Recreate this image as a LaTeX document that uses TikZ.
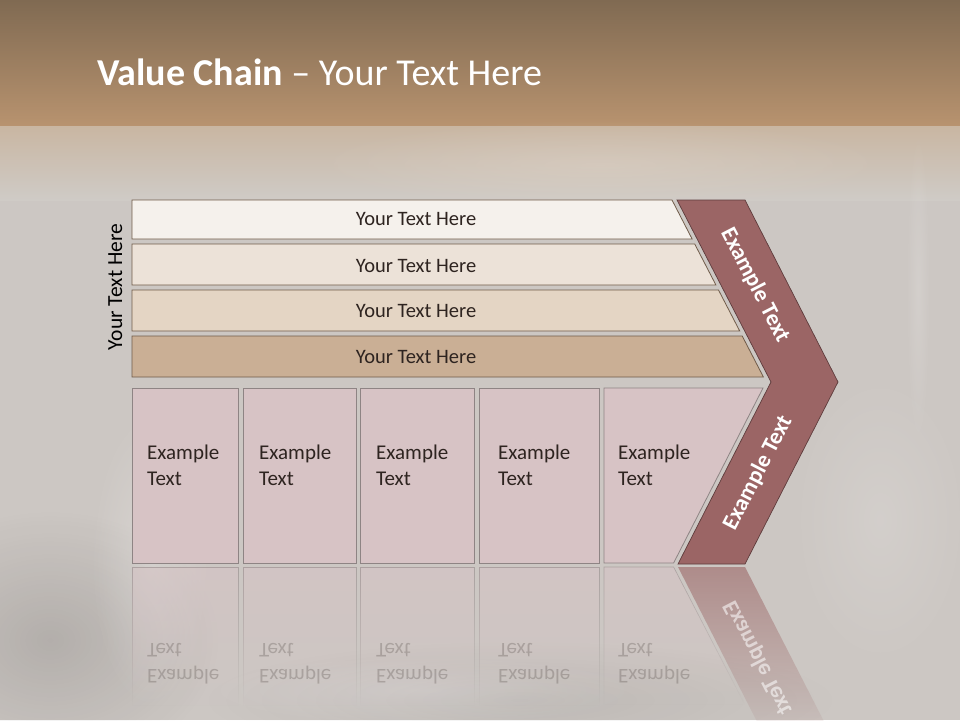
\documentclass[tikz,border=0pt]{standalone}
\usepackage{fontspec}
\setmainfont{Carlito}
\usepackage{graphicx}
\usetikzlibrary{fadings}
\definecolor{bgA}{HTML}{806A52}
\definecolor{bgB}{HTML}{B8936F}
\definecolor{bgC}{HTML}{C9B6A2}
\definecolor{bgD}{HTML}{CFCBC6}
\definecolor{bgE}{HTML}{CCC7C3}
\definecolor{barA}{HTML}{F5F1EC}
\definecolor{barB}{HTML}{ECE2D8}
\definecolor{barC}{HTML}{E4D5C4}
\definecolor{barD}{HTML}{CAAF95}
\definecolor{barline}{HTML}{705C4A}
\definecolor{boxfill}{HTML}{D7C3C5}
\definecolor{boxline}{HTML}{8E8484}
\definecolor{chevfill}{HTML}{9B6565}
\definecolor{chevline}{HTML}{5E3C3C}
\definecolor{txtdark}{HTML}{2E2420}
\tikzfading[name=reflfade, top color=transparent!45, bottom color=transparent!100]
\tikzfading[name=reflfadeC, top color=transparent!40, middle color=transparent!80, bottom color=transparent!100]
\tikzfading[name=softblob, inner color=transparent!0, outer color=transparent!100]
\newcommand\exlines{\begin{tabular}[t]{@{}l@{}}Example\\Text\end{tabular}}
\newcommand\exlinesflip{\scalebox{1}[-1]{\begin{tabular}[b]{@{}l@{}}Example\\Text\end{tabular}}}
\begin{document}
\begin{tikzpicture}[x=1pt,y=-1pt,
  bar/.style={draw=barline, line width=0.8pt},
  cbox/.style={draw=boxline, fill=boxfill, line width=0.8pt},
  chev/.style={draw=chevline, fill=chevfill, line width=0.7pt},
  bartext/.style={font=\fontsize{20.5}{24}\selectfont, text=txtdark, anchor=base, inner sep=0pt},
  boxtext/.style={font=\fontsize{21}{26}\selectfont, text=txtdark, anchor=base west, inner sep=0pt},
  reftext/.style={font=\fontsize{21}{26}\selectfont, text=txtdark, text opacity=0.22, anchor=base west, inner sep=0pt},
  chevtext/.style={font=\bfseries\fontsize{23}{27}\selectfont, text=white, inner sep=0pt},
  refl/.style={fill=boxfill, draw=boxline, line width=0.6pt, path fading=reflfade},
  blob/.style={path fading=softblob},
]
\useasboundingbox (0,0) rectangle (960,720);
% ---------- background ----------
\fill[bgE] (0,0) rectangle (960,720);
\shade[top color=bgA, bottom color=bgB] (0,0) rectangle (960,126);
\shade[top color=bgC, bottom color=bgD] (0,126) rectangle (960,200);
\fill[bgC!60!white, opacity=0.45, blob] (600,165) ellipse (300 and 45);
\fill[white, opacity=0.15, blob] (918,290) ellipse (12 and 160);
\fill[black, opacity=0.12, blob] (50,640) ellipse (170 and 130);
\fill[black, opacity=0.07, blob] (520,700) ellipse (320 and 60);
\fill[white, opacity=0.22, blob] (150,560) ellipse (60 and 150);
\fill[white, opacity=0.18, blob] (420,690) ellipse (220 and 35);
\fill[white, opacity=0.14, blob] (880,520) ellipse (90 and 150);
% ---------- title ----------
\node[anchor=base west, inner sep=0pt, text=white, font=\fontsize{38}{45}\selectfont] (title) at (97,85)
  {\textbf{Value Chain} – Your Text Here};
% ---------- side label ----------
\node[rotate=90, anchor=base, inner sep=0pt, text=black, font=\fontsize{21.5}{25}\selectfont] (side) at (122,287) {Your Text Here};
% ---------- bars ----------
\path[bar, fill=barA] (132,200) -- (672,200) -- (692.1,239) -- (132,239) -- cycle;
\path[bar, fill=barB] (132,244) -- (694.7,244) -- (715.9,285) -- (132,285) -- cycle;
\path[bar, fill=barC] (132,290) -- (718.5,290) -- (739.7,331) -- (132,331) -- cycle;
\path[bar, fill=barD] (132,336) -- (742.2,336) -- (763.4,377) -- (132,377) -- cycle;
\node[bartext] (t1) at (416,225) {Your Text Here};
\node[bartext] (t2) at (416,272) {Your Text Here};
\node[bartext] (t3) at (416,317) {Your Text Here};
\node[bartext] (t4) at (416,363) {Your Text Here};
% ---------- reflections ----------
\path[refl] (132,567) rectangle (238,705);
\path[refl] (243,567) rectangle (356,705);
\path[refl] (360,567) rectangle (474,705);
\path[refl] (479,567) rectangle (599,705);
\path[refl] (604,567) -- (673.6,567) -- (745,705) -- (604,705) -- cycle;
\path[fill=chevfill, path fading=reflfadeC] (678,567) -- (745,567) -- (838,749) -- (771,749) -- cycle;
\node[reftext] (r1) at (147,643) {\exlinesflip};
\node[reftext] (r2) at (259,643) {\exlinesflip};
\node[reftext] (r3) at (376,643) {\exlinesflip};
\node[reftext] (r4) at (498,643) {\exlinesflip};
\node[reftext] (r5) at (618,643) {\exlinesflip};
\node[chevtext, rotate=-62.7, text opacity=0.55] (rc) at (758,658) {\scalebox{1}[-1]{Example Text}};
% ---------- boxes ----------
\path[cbox] (132,388) rectangle (238,563);
\path[cbox] (243,388) rectangle (356,563);
\path[cbox] (360,388) rectangle (474,563);
\path[cbox] (479,388) rectangle (599,563);
\path[cbox] (604,388) -- (763,388) -- (673.6,563) -- (604,563) -- cycle;
\node[boxtext] (b1) at (147,459) {\exlines};
\node[boxtext] (b2) at (259,459) {\exlines};
\node[boxtext] (b3) at (376,459) {\exlines};
\node[boxtext] (b4) at (498,459) {\exlines};
\node[boxtext] (b5) at (618,459) {\exlines};
% ---------- chevron ----------
\path[chev] (677,200) -- (745,200) -- (838,382) -- (745,564) -- (678,564) -- (771,382) -- cycle;
\node[chevtext, rotate=-62.7] (c1) at (755,285) {Example Text};
\node[chevtext, rotate=62.7] (c2) at (758,473) {Example Text};
\end{tikzpicture}
\end{document}
